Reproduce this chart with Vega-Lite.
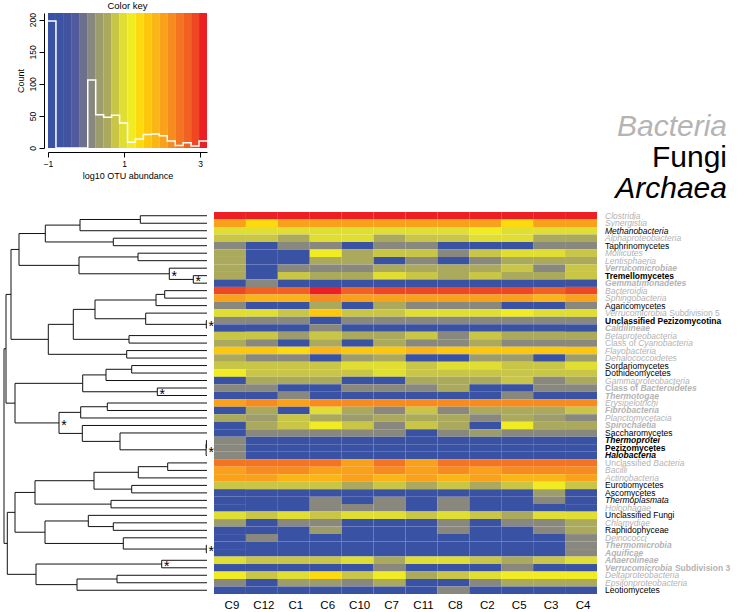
{
"$schema": "https://vega.github.io/schema/vega-lite/v6.json",
"background": "white",
"padding": {"left": 3, "top": 1, "right": 2, "bottom": 2},
"config": {"font": "Liberation Sans", "view": {"stroke": null}, "axis": {"grid": false}},
"datasets": {
"rows": [
{"c":"Clostridia","k":"Bacteria","s":0,"C9":3.07,"C12":3.07,"C1":3.07,"C6":3.07,"C10":3.07,"C7":3.07,"C11":3.07,"C8":3.07,"C2":3.07,"C5":3.07,"C3":3.07,"C4":3.07},
{"c":"Synergistia","k":"Bacteria","s":0,"C9":2.03,"C12":1.4,"C1":2.03,"C6":2.03,"C10":2.03,"C7":2.03,"C11":2.03,"C8":2.03,"C2":2.03,"C5":1.4,"C3":2.03,"C4":2.03},
{"c":"Methanobacteria","k":"Archaea","s":0,"C9":0.99,"C12":0.99,"C1":0.99,"C6":0.99,"C10":0.99,"C7":0.99,"C11":0.99,"C8":0.99,"C2":1.2,"C5":0.99,"C3":0.99,"C4":0.99},
{"c":"Alphaproteobacteria","k":"Bacteria","s":0,"C9":0.78,"C12":0.78,"C1":0.57,"C6":0.99,"C10":0.99,"C7":0.57,"C11":0.78,"C8":0.78,"C2":0.99,"C5":0.99,"C3":0.57,"C4":0.57},
{"c":"Taphrinomycetes","k":"Fungi","s":0,"C9":0.15,"C12":-1,"C1":0.15,"C6":0.15,"C10":-1,"C7":0.15,"C11":0.15,"C8":-1,"C2":-1,"C5":-1,"C3":0.15,"C4":0.15},
{"c":"Mollicutes","k":"Bacteria","s":0,"C9":0.57,"C12":-1,"C1":-1,"C6":1.2,"C10":0.57,"C7":0.78,"C11":0.78,"C8":0.15,"C2":0.78,"C5":0.99,"C3":0.99,"C4":0.78},
{"c":"Lentisphaeria","k":"Bacteria","s":0,"C9":0.57,"C12":-1,"C1":-1,"C6":0.57,"C10":0.57,"C7":-1,"C11":0.15,"C8":-1,"C2":0.15,"C5":0.57,"C3":0.57,"C4":0.57},
{"c":"Verrucomicrobiae","k":"Bacteria","s":1,"C9":0.57,"C12":-1,"C1":0.15,"C6":0.15,"C10":0.15,"C7":0.57,"C11":0.57,"C8":0.57,"C2":0.57,"C5":0.78,"C3":0.15,"C4":0.78},
{"c":"Tremellomycetes","k":"Fungi","s":1,"C9":0.57,"C12":-1,"C1":0.78,"C6":0.57,"C10":0.57,"C7":0.99,"C11":0.78,"C8":0.57,"C2":0.78,"C5":0.57,"C3":0.57,"C4":0.78},
{"c":"Gemmatimonadetes","k":"Bacteria","s":1,"C9":-1,"C12":0.15,"C1":-1,"C6":-1,"C10":-1,"C7":-1,"C11":-1,"C8":-1,"C2":-1,"C5":-1,"C3":-1,"C4":-1},
{"c":"Bacteroidia","k":"Bacteria","s":0,"C9":2.87,"C12":2.66,"C1":2.66,"C6":3.07,"C10":2.66,"C7":2.87,"C11":2.87,"C8":2.87,"C2":2.87,"C5":2.87,"C3":2.66,"C4":2.87},
{"c":"Sphingobacteria","k":"Bacteria","s":0,"C9":2.03,"C12":1.82,"C1":1.82,"C6":2.24,"C10":2.03,"C7":2.03,"C11":2.03,"C8":2.03,"C2":2.03,"C5":2.03,"C3":1.82,"C4":2.03},
{"c":"Agaricomycetes","k":"Fungi","s":0,"C9":0.15,"C12":-1,"C1":-1,"C6":0.57,"C10":-1,"C7":0.57,"C11":0.15,"C8":0.15,"C2":0.15,"C5":-1,"C3":-1,"C4":0.15},
{"c":"Verrucomicrobia Subdivision 5","k":"Bacteria","s":0,"C9":0.99,"C12":0.99,"C1":0.78,"C6":1.61,"C10":0.78,"C7":0.78,"C11":0.99,"C8":0.99,"C2":0.99,"C5":1.2,"C3":0.99,"C4":0.99},
{"c":"Unclassified Pezizomycotina","k":"Fungi","s":1,"C9":0.15,"C12":0.15,"C1":0.15,"C6":-1,"C10":0.15,"C7":0.15,"C11":0.15,"C8":0.15,"C2":0.15,"C5":0.15,"C3":0.15,"C4":0.15},
{"c":"Caldilineae","k":"Bacteria","s":1,"C9":-1,"C12":-1,"C1":-1,"C6":0.15,"C10":-1,"C7":-1,"C11":-1,"C8":-1,"C2":-1,"C5":-1,"C3":-1,"C4":-1},
{"c":"Betaproteobacteria","k":"Bacteria","s":0,"C9":0.78,"C12":0.78,"C1":0.36,"C6":0.78,"C10":0.57,"C7":0.57,"C11":0.78,"C8":0.15,"C2":0.78,"C5":0.57,"C3":0.57,"C4":0.57},
{"c":"Class of Cyanobacteria","k":"Bacteria","s":0,"C9":0.57,"C12":0.15,"C1":-1,"C6":0.57,"C10":-1,"C7":0.57,"C11":0.15,"C8":0.15,"C2":0.57,"C5":0.15,"C3":0.15,"C4":0.15},
{"c":"Flavobacteria","k":"Bacteria","s":0,"C9":1.61,"C12":1.61,"C1":1.4,"C6":1.82,"C10":1.61,"C7":1.61,"C11":1.82,"C8":1.61,"C2":1.61,"C5":1.61,"C3":1.61,"C4":1.61},
{"c":"Dehalococcoidetes","k":"Bacteria","s":0,"C9":0.57,"C12":0.15,"C1":0.15,"C6":-1,"C10":0.36,"C7":0.57,"C11":-1,"C8":-1,"C2":0.36,"C5":0.36,"C3":-1,"C4":0.36},
{"c":"Sordariomycetes","k":"Fungi","s":0,"C9":0.78,"C12":0.78,"C1":0.78,"C6":0.78,"C10":0.99,"C7":0.99,"C11":0.78,"C8":0.99,"C2":0.99,"C5":0.78,"C3":0.78,"C4":0.99},
{"c":"Dothideomycetes","k":"Fungi","s":0,"C9":1.2,"C12":0.78,"C1":0.78,"C6":0.78,"C10":0.78,"C7":0.99,"C11":0.78,"C8":0.78,"C2":0.78,"C5":0.78,"C3":0.78,"C4":0.78},
{"c":"Gammaproteobacteria","k":"Bacteria","s":0,"C9":-1,"C12":0.57,"C1":0.57,"C6":0.57,"C10":-1,"C7":-1,"C11":0.57,"C8":0.57,"C2":0.57,"C5":0.78,"C3":0.15,"C4":0.57},
{"c":"Class of Bacteroidetes","k":"Bacteria","s":1,"C9":0.15,"C12":0.15,"C1":-1,"C6":-1,"C10":0.15,"C7":0.15,"C11":0.15,"C8":0.57,"C2":-1,"C5":-1,"C3":0.15,"C4":0.15},
{"c":"Thermotogae","k":"Bacteria","s":1,"C9":-1,"C12":-1,"C1":0.15,"C6":-1,"C10":-1,"C7":-1,"C11":-1,"C8":-1,"C2":-1,"C5":0.15,"C3":-1,"C4":-1},
{"c":"Erysipelotrichi","k":"Bacteria","s":0,"C9":2.03,"C12":2.24,"C1":2.03,"C6":2.24,"C10":2.24,"C7":2.24,"C11":2.24,"C8":2.24,"C2":2.24,"C5":2.24,"C3":2.24,"C4":2.24},
{"c":"Fibrobacteria","k":"Bacteria","s":1,"C9":-1,"C12":0.57,"C1":-1,"C6":0.99,"C10":0.57,"C7":0.15,"C11":0.78,"C8":0.15,"C2":0.57,"C5":0.57,"C3":0.57,"C4":0.78},
{"c":"Planctomycetacia","k":"Bacteria","s":0,"C9":0.57,"C12":0.36,"C1":0.78,"C6":0.57,"C10":0.36,"C7":0.57,"C11":0.57,"C8":0.57,"C2":0.15,"C5":0.57,"C3":0.36,"C4":0.15},
{"c":"Spirochaetia","k":"Bacteria","s":1,"C9":-1,"C12":0.57,"C1":0.78,"C6":1.2,"C10":0.78,"C7":0.15,"C11":0.78,"C8":0.57,"C2":-1,"C5":1.2,"C3":0.57,"C4":0.57},
{"c":"Saccharomycetes","k":"Fungi","s":0,"C9":-1,"C12":0.15,"C1":0.15,"C6":0.15,"C10":0.15,"C7":0.15,"C11":-1,"C8":0.15,"C2":0.36,"C5":0.15,"C3":0.15,"C4":0.15},
{"c":"Thermoprotei","k":"Archaea","s":1,"C9":0.15,"C12":-1,"C1":-1,"C6":-1,"C10":-1,"C7":-1,"C11":-1,"C8":-1,"C2":-1,"C5":-1,"C3":-1,"C4":-1},
{"c":"Pezizomycetes","k":"Fungi","s":1,"C9":0.15,"C12":-1,"C1":-1,"C6":-1,"C10":-1,"C7":-1,"C11":-1,"C8":-1,"C2":-1,"C5":-1,"C3":-1,"C4":-1},
{"c":"Halobacteria","k":"Archaea","s":1,"C9":0.15,"C12":-1,"C1":-1,"C6":-1,"C10":-1,"C7":-1,"C11":-1,"C8":-1,"C2":-1,"C5":-1,"C3":-1,"C4":-1},
{"c":"Unclassified Bacteria","k":"Bacteria","s":0,"C9":2.45,"C12":2.45,"C1":2.45,"C6":2.45,"C10":2.03,"C7":2.45,"C11":2.03,"C8":2.45,"C2":2.45,"C5":2.45,"C3":2.45,"C4":2.45},
{"c":"Bacilli","k":"Bacteria","s":0,"C9":2.03,"C12":2.24,"C1":2.24,"C6":2.03,"C10":2.03,"C7":2.24,"C11":2.03,"C8":2.24,"C2":2.03,"C5":2.24,"C3":2.24,"C4":2.24},
{"c":"Actinobacteria","k":"Bacteria","s":0,"C9":2.03,"C12":2.03,"C1":1.82,"C6":1.82,"C10":2.03,"C7":1.82,"C11":2.03,"C8":1.82,"C2":2.03,"C5":1.82,"C3":1.82,"C4":2.03},
{"c":"Eurotiomycetes","k":"Fungi","s":0,"C9":0.78,"C12":0.78,"C1":0.78,"C6":0.78,"C10":0.57,"C7":0.78,"C11":0.57,"C8":0.78,"C2":0.57,"C5":0.78,"C3":1.2,"C4":0.78},
{"c":"Ascomycetes","k":"Fungi","s":0,"C9":-1,"C12":-1,"C1":-1,"C6":-1,"C10":-1,"C7":-1,"C11":-1,"C8":-1,"C2":-1,"C5":-1,"C3":0.36,"C4":-1},
{"c":"Thermoplasmata","k":"Archaea","s":0,"C9":-1,"C12":-1,"C1":-1,"C6":0.15,"C10":-1,"C7":0.15,"C11":-1,"C8":0.15,"C2":-1,"C5":-1,"C3":0.15,"C4":-1},
{"c":"Holophagae","k":"Bacteria","s":0,"C9":-1,"C12":-1,"C1":-1,"C6":0.15,"C10":0.15,"C7":0.15,"C11":-1,"C8":0.15,"C2":-1,"C5":-1,"C3":-1,"C4":-1},
{"c":"Unclassified Fungi","k":"Fungi","s":0,"C9":0.99,"C12":0.78,"C1":0.99,"C6":0.78,"C10":0.99,"C7":0.99,"C11":0.78,"C8":0.99,"C2":0.78,"C5":0.57,"C3":0.99,"C4":0.99},
{"c":"Chlamydiae","k":"Bacteria","s":0,"C9":0.36,"C12":-1,"C1":0.15,"C6":0.15,"C10":-1,"C7":-1,"C11":-1,"C8":0.15,"C2":-1,"C5":0.15,"C3":0.15,"C4":0.57},
{"c":"Raphidophyceae","k":"Fungi","s":0,"C9":-1,"C12":-1,"C1":-1,"C6":0.36,"C10":-1,"C7":-1,"C11":-1,"C8":0.15,"C2":-1,"C5":-1,"C3":0.15,"C4":0.57},
{"c":"Deinococci","k":"Bacteria","s":0,"C9":-1,"C12":0.15,"C1":-1,"C6":-1,"C10":-1,"C7":-1,"C11":-1,"C8":-1,"C2":-1,"C5":-1,"C3":-1,"C4":0.15},
{"c":"Thermomicrobia","k":"Bacteria","s":1,"C9":-1,"C12":-1,"C1":-1,"C6":-1,"C10":-1,"C7":-1,"C11":-1,"C8":-1,"C2":-1,"C5":-1,"C3":-1,"C4":0.15},
{"c":"Aquificae","k":"Bacteria","s":1,"C9":-1,"C12":-1,"C1":-1,"C6":-1,"C10":-1,"C7":-1,"C11":-1,"C8":-1,"C2":-1,"C5":-1,"C3":-1,"C4":0.15},
{"c":"Anaerolineae","k":"Bacteria","s":1,"C9":0.99,"C12":0.78,"C1":0.78,"C6":0.78,"C10":0.99,"C7":0.57,"C11":0.99,"C8":0.99,"C2":0.78,"C5":0.57,"C3":0.78,"C4":0.99},
{"c":"Verrucomicrobia Subdivision 3","k":"Bacteria","s":1,"C9":-1,"C12":-1,"C1":-1,"C6":-1,"C10":-1,"C7":0.15,"C11":-1,"C8":-1,"C2":-1,"C5":0.15,"C3":-1,"C4":-1},
{"c":"Deltaproteobacteria","k":"Bacteria","s":0,"C9":1.2,"C12":0.78,"C1":0.99,"C6":1.4,"C10":0.78,"C7":1.2,"C11":0.57,"C8":0.78,"C2":0.99,"C5":1.2,"C3":1.2,"C4":1.2},
{"c":"Epsilonproteobacteria","k":"Bacteria","s":0,"C9":0.15,"C12":-1,"C1":0.36,"C6":0.36,"C10":0.15,"C7":0.57,"C11":-1,"C8":-1,"C2":0.15,"C5":0.57,"C3":0.57,"C4":0.57},
{"c":"Leotiomycetes","k":"Fungi","s":0,"C9":-1,"C12":-1,"C1":-1,"C6":-1,"C10":-1,"C7":-1,"C11":-1,"C8":0.15,"C2":-1,"C5":-1,"C3":-1,"C4":-1}
],
"tree": [
{"id":"L1","h":0,"y":1,"p":"N1","ph":66.7},{"id":"L2","h":0,"y":2,"p":"N1","ph":66.7},{"id":"L3","h":0,"y":3,"p":"N2","ph":127},
{"id":"L4","h":0,"y":4,"p":"N3","ph":93.7},{"id":"L5","h":0,"y":5,"p":"N3","ph":93.7},{"id":"L6","h":0,"y":6,"p":"N5","ph":69},
{"id":"L7","h":0,"y":7,"p":"N5","ph":69},{"id":"L8","h":0,"y":8,"p":"N7","ph":37.7},{"id":"L9","h":0,"y":9,"p":"N6","ph":13.7},
{"id":"L10","h":0,"y":10,"p":"N6","ph":13.7},{"id":"L11","h":0,"y":11,"p":"N10","ph":42.3},{"id":"L12","h":0,"y":12,"p":"N10","ph":42.3},
{"id":"L13","h":0,"y":13,"p":"N11","ph":51},{"id":"L14","h":0,"y":14,"p":"N13","ph":61.3},{"id":"L15","h":0,"y":15,"p":"N12","ph":0.7},
{"id":"L16","h":0,"y":16,"p":"N12","ph":0.7},{"id":"L17","h":0,"y":17,"p":"N15","ph":78},{"id":"L18","h":0,"y":18,"p":"N15","ph":78},
{"id":"L19","h":0,"y":19,"p":"N17","ph":80.3},{"id":"L20","h":0,"y":20,"p":"N17","ph":80.3},{"id":"L21","h":0,"y":21,"p":"N20","ph":75.3},
{"id":"L22","h":0,"y":22,"p":"N20","ph":75.3},{"id":"L23","h":0,"y":23,"p":"N21","ph":101},{"id":"L24","h":0,"y":24,"p":"N22","ph":49.7},
{"id":"L25","h":0,"y":25,"p":"N22","ph":49.7},{"id":"L26","h":0,"y":26,"p":"N24","ph":99.7},{"id":"L27","h":0,"y":27,"p":"N24","ph":99.7},
{"id":"L28","h":0,"y":28,"p":"N25","ph":126.3},{"id":"L29","h":0,"y":29,"p":"N28","ph":124.7},{"id":"L30","h":0,"y":30,"p":"N27","ph":87},
{"id":"L31","h":0,"y":31,"p":"N26a","ph":0.6},{"id":"L32","h":0,"y":32,"p":"N26a","ph":0.6},{"id":"L33","h":0,"y":33,"p":"N26","ph":0.9},
{"id":"L34","h":0,"y":34,"p":"N32","ph":39.3},{"id":"L35","h":0,"y":35,"p":"N32","ph":39.3},{"id":"L36","h":0,"y":36,"p":"N33","ph":68.7},
{"id":"L37","h":0,"y":37,"p":"N34","ph":75.3},{"id":"L38","h":0,"y":38,"p":"N34","ph":75.3},{"id":"L39","h":0,"y":39,"p":"N36","ph":96},
{"id":"L40","h":0,"y":40,"p":"N36","ph":96},{"id":"L41","h":0,"y":41,"p":"N39","ph":118.7},{"id":"L42","h":0,"y":42,"p":"N38","ph":93.7},
{"id":"L43","h":0,"y":43,"p":"N38","ph":93.7},{"id":"L44","h":0,"y":44,"p":"N41","ph":83.7},{"id":"L45","h":0,"y":45,"p":"N40","ph":0.7},
{"id":"L46","h":0,"y":46,"p":"N40","ph":0.7},{"id":"L47","h":0,"y":47,"p":"N44","ph":45.3},{"id":"L48","h":0,"y":48,"p":"N44","ph":45.3},
{"id":"L49","h":0,"y":49,"p":"N45","ph":90},{"id":"L50","h":0,"y":50,"p":"N45","ph":90},{"id":"L51","h":0,"y":51,"p":"N46","ph":130},
{"id":"N1","h":66.7,"y":1.5,"p":"N2","ph":127},
{"id":"N2","h":127,"y":2.25,"p":"N4","ph":161.7},
{"id":"N3","h":93.7,"y":4.5,"p":"N4","ph":161.7},
{"id":"N4","h":161.7,"y":3.375,"p":"N9","ph":188},
{"id":"N5","h":69,"y":6.5,"p":"N8","ph":128},
{"id":"N6","h":13.7,"y":9.5,"p":"N7","ph":37.7,"star":true},
{"id":"N7","h":37.7,"y":8.75,"p":"N8","ph":128,"star":true},
{"id":"N8","h":128,"y":7.625,"p":"N9","ph":188},
{"id":"N9","h":188,"y":5.5,"p":"N19","ph":196},
{"id":"N10","h":42.3,"y":11.5,"p":"N11","ph":51},
{"id":"N11","h":51,"y":12.25,"p":"N14","ph":112},
{"id":"N12","h":0.7,"y":15.5,"p":"N13","ph":61.3,"star":true},
{"id":"N13","h":61.3,"y":14.75,"p":"N14","ph":112},
{"id":"N14","h":112,"y":13.5,"p":"N16","ph":133.7},
{"id":"N15","h":78,"y":17.5,"p":"N16","ph":133.7},
{"id":"N16","h":133.7,"y":15.5,"p":"N18","ph":158.7},
{"id":"N17","h":80.3,"y":19.5,"p":"N18","ph":158.7},
{"id":"N18","h":158.7,"y":17.5,"p":"N19","ph":196},
{"id":"N19","h":196,"y":11.5,"p":"N31","ph":201},
{"id":"N20","h":75.3,"y":21.5,"p":"N21","ph":101},
{"id":"N21","h":101,"y":22.25,"p":"N23","ph":124.3},
{"id":"N22","h":49.7,"y":24.5,"p":"N23","ph":124.3,"star":true},
{"id":"N23","h":124.3,"y":23.375,"p":"N30","ph":192},
{"id":"N24","h":99.7,"y":26.5,"p":"N25","ph":126.3},
{"id":"N25","h":126.3,"y":27.25,"p":"N29","ph":148},
{"id":"N26a","h":0.6,"y":31.5,"p":"N26","ph":0.9},
{"id":"N26","h":0.9,"y":32.25,"p":"N27","ph":87,"star":true},
{"id":"N27","h":87,"y":31.125,"p":"N28","ph":124.7},
{"id":"N28","h":124.7,"y":30.06,"p":"N29","ph":148},
{"id":"N29","h":148,"y":28.66,"p":"N30","ph":192,"star":true},
{"id":"N30","h":192,"y":26.02,"p":"N31","ph":201},
{"id":"N31","h":201,"y":18.76,"p":"ROOT","ph":203},
{"id":"N32","h":39.3,"y":34.5,"p":"N33","ph":68.7},
{"id":"N33","h":68.7,"y":35.25,"p":"N35","ph":113},
{"id":"N34","h":75.3,"y":37.5,"p":"N35","ph":113},
{"id":"N35","h":113,"y":36.375,"p":"N37","ph":172},
{"id":"N36","h":96,"y":39.5,"p":"N37","ph":172},
{"id":"N37","h":172,"y":37.94,"p":"N43","ph":192},
{"id":"N38","h":93.7,"y":42.5,"p":"N39","ph":118.7},
{"id":"N39","h":118.7,"y":41.75,"p":"N42","ph":162},
{"id":"N40","h":0.7,"y":45.5,"p":"N41","ph":83.7,"star":true},
{"id":"N41","h":83.7,"y":44.75,"p":"N42","ph":162},
{"id":"N42","h":162,"y":43.25,"p":"N43","ph":192},
{"id":"N43","h":192,"y":40.6,"p":"N48","ph":199.7},
{"id":"N44","h":45.3,"y":47.5,"p":"N47","ph":171,"star":true},
{"id":"N45","h":90,"y":49.5,"p":"N46","ph":130},
{"id":"N46","h":130,"y":50.25,"p":"N47","ph":171},
{"id":"N47","h":171,"y":48.875,"p":"N48","ph":199.7},
{"id":"N48","h":199.7,"y":44.74,"p":"ROOT","ph":203},
{"id":"ROOT","h":203,"y":31.75,"p":null,"ph":null}
],
"bands": [
{"lo":-1,"hi":-0.791,"n":198},{"lo":-0.791,"hi":-0.582,"n":0},{"lo":-0.582,"hi":-0.373,"n":0},{"lo":-0.373,"hi":-0.164,"n":0},
{"lo":-0.164,"hi":0.045,"n":0},{"lo":0.045,"hi":0.254,"n":106},{"lo":0.254,"hi":0.463,"n":52},{"lo":0.463,"hi":0.672,"n":48},
{"lo":0.672,"hi":0.881,"n":51},{"lo":0.881,"hi":1.09,"n":39},{"lo":1.09,"hi":1.299,"n":9},{"lo":1.299,"hi":1.508,"n":14},
{"lo":1.508,"hi":1.717,"n":21},{"lo":1.717,"hi":1.926,"n":22},{"lo":1.926,"hi":2.135,"n":19},{"lo":2.135,"hi":2.344,"n":11},
{"lo":2.344,"hi":2.553,"n":4},{"lo":2.553,"hi":2.762,"n":8},{"lo":2.762,"hi":2.971,"n":3},{"lo":2.971,"hi":3.18,"n":11}
],
"kingdoms": [{"k":"Bacteria","rank":1},{"k":"Fungi","rank":2},{"k":"Archaea","rank":3}]
},
"vconcat": [
{
"hconcat": [
{"width": 38, "height": 135, "data": {"values": []}, "mark": "point"},
{
"width": 159, "height": 135,
"title": {"text": "Color key", "fontSize": 9.5, "fontWeight": "normal", "offset": 2, "anchor": "middle", "color": "black"},
"data": {"name": "bands"},
"layer": [
{"mark": {"type": "rect"},
"encoding": {
"x": {"field": "lo", "type": "quantitative", "scale": {"domain": [-1, 3.18], "nice": false, "zero": false},
"axis": {"values": [-1, 0, 1, 2, 3], "title": "log10 OTU abundance", "titleFontSize": 9, "titleFontWeight": "normal", "titleColor": "black", "titlePadding": 4, "labelFontSize": 8.5, "labelColor": "black", "tickSize": 5, "tickColor": "black", "domainColor": "black", "offset": 4, "labelFlush": false, "labelOverlap": false, "labelPadding": 2}},
"x2": {"field": "hi"},
"fill": {"field": "lo", "type": "quantitative", "legend": null,
"scale": {"type": "threshold", "domain": [-0.791,-0.582,-0.373,-0.164,0.045,0.254,0.463,0.672,0.881,1.09,1.299,1.508,1.717,1.926,2.135,2.344,2.553,2.762,2.971],
"range": ["#3a52a3","#3c52a2","#4254a0","#515a9b","#6d6f8f","#88887e","#9d9c6c","#aba95b","#c9c647","#e1de33","#f0eb22","#fdd90f","#fcc70c","#fbb516","#f9a11b","#f68b1f","#f47521","#f26122","#ef4623","#ec2024"]}}
}},
{"transform": [{"fold": ["lo", "hi"], "as": ["edge", "xv"]}],
"mark": {"type": "line", "color": "white", "strokeWidth": 1.5},
"encoding": {
"x": {"field": "xv", "type": "quantitative"},
"y": {"field": "n", "type": "quantitative", "scale": {"domain": [0, 210.5], "nice": false},
"axis": {"values": [0, 50, 100, 150, 200], "title": "Count", "titleFontSize": 9, "titleFontWeight": "normal", "titleColor": "black", "titlePadding": 3, "labelFontSize": 8.5, "labelColor": "black", "labelAngle": 270, "labelAlign": "center", "labelBaseline": "bottom", "tickSize": 5, "tickColor": "black", "domainColor": "black", "offset": 4, "labelFlush": false, "labelOverlap": false, "labelPadding": 2}},
"order": [{"field": "xv", "type": "quantitative"}, {"field": "edge", "type": "ordinal"}]
}}
]
},
{
"width": 513, "height": 135,
"data": {"name": "kingdoms"},
"encoding": {
"x": {"datum": 1, "type": "quantitative", "scale": {"domain": [0, 1]}, "axis": null},
"y": {"field": "rank", "type": "quantitative", "scale": {"domain": [-2.677, 1.677], "reverse": true, "nice": false, "zero": false}, "axis": null},
"text": {"field": "k"}
},
"layer": [
{"transform": [{"filter": "datum.k == 'Bacteria'"}], "mark": {"type": "text", "align": "right", "baseline": "middle", "fontSize": 30, "fontStyle": "italic", "color": "#b4b4b4"}},
{"transform": [{"filter": "datum.k == 'Fungi'"}], "mark": {"type": "text", "align": "right", "baseline": "middle", "fontSize": 30, "fontStyle": "normal", "color": "black"}},
{"transform": [{"filter": "datum.k == 'Archaea'"}], "mark": {"type": "text", "align": "right", "baseline": "middle", "fontSize": 30, "fontStyle": "italic", "color": "black"}}
]
}
],
"spacing": 7,
"bounds": "flush"
},
{
"hconcat": [
{
"width": 204, "height": 382,
"layer": [
{"data": {"name": "tree"},
"transform": [{"filter": "datum.p != null"}],
"mark": {"type": "rule", "color": "#111111", "strokeWidth": 1},
"encoding": {
"x": {"field": "h", "type": "quantitative", "scale": {"domain": [0, 204], "reverse": true, "nice": false, "zero": false}, "axis": null},
"x2": {"field": "ph"},
"y": {"field": "y", "type": "quantitative", "scale": {"domain": [0.5, 51.5], "reverse": true, "nice": false, "zero": false}, "axis": null}
}},
{"data": {"name": "tree"},
"transform": [{"filter": "datum.p != null"}, {"aggregate": [{"op": "min", "field": "y", "as": "y1"}, {"op": "max", "field": "y", "as": "y2"}, {"op": "max", "field": "ph", "as": "hx"}], "groupby": ["p"]}],
"mark": {"type": "rule", "color": "#111111", "strokeWidth": 1},
"encoding": {
"x": {"field": "hx", "type": "quantitative"},
"y": {"field": "y1", "type": "quantitative"},
"y2": {"field": "y2"}
}},
{"data": {"name": "tree"},
"transform": [{"filter": "datum.star == true"}],
"mark": {"type": "text", "text": "*", "fontSize": 14, "dx": 5, "dy": 3, "align": "center", "baseline": "middle", "color": "black"},
"encoding": {
"x": {"field": "h", "type": "quantitative"},
"y": {"field": "y", "type": "quantitative"}
}}
]
},
{
"width": 383, "height": 382,
"data": {"name": "rows"},
"encoding": {
"y": {"field": "c", "type": "nominal", "sort": null, "scale": {"paddingInner": 0, "paddingOuter": 0}, "axis": null}
},
"layer": [
{"transform": [{"fold": ["C9","C12","C1","C6","C10","C7","C11","C8","C2","C5","C3","C4"], "as": ["sample", "v"]}],
"mark": {"type": "rect"},
"encoding": {
"x": {"field": "sample", "type": "nominal", "sort": ["C9","C12","C1","C6","C10","C7","C11","C8","C2","C5","C3","C4"], "scale": {"paddingInner": 0, "paddingOuter": 0},
"axis": {"title": null, "ticks": false, "domain": false, "labelFontSize": 11.5, "labelPadding": 5, "labelAngle": 0, "labelColor": "black", "labelOffset": 2}},
"fill": {"field": "v", "type": "quantitative", "legend": null,
"scale": {"type": "threshold", "domain": [-0.791,-0.582,-0.373,-0.164,0.045,0.254,0.463,0.672,0.881,1.09,1.299,1.508,1.717,1.926,2.135,2.344,2.553,2.762,2.971],
"range": ["#3a52a3","#3c52a2","#4254a0","#515a9b","#6d6f8f","#88887e","#9d9c6c","#aba95b","#c9c647","#e1de33","#f0eb22","#fdd90f","#fcc70c","#fbb516","#f9a11b","#f68b1f","#f47521","#f26122","#ef4623","#ec2024"]}}
}},
{"transform": [{"filter": "datum.k == 'Fungi' && datum.s == 0"}],
"mark": {"type": "text", "align": "left", "baseline": "middle", "dx": 24, "fontSize": 8.5, "color": "black"},
"encoding": {"x": {"datum": "C4", "type": "nominal"}, "text": {"field": "c"}}},
{"transform": [{"filter": "datum.k == 'Fungi' && datum.s == 1"}],
"mark": {"type": "text", "align": "left", "baseline": "middle", "dx": 24, "fontSize": 8.5, "fontWeight": "bold", "color": "black"},
"encoding": {"x": {"datum": "C4", "type": "nominal"}, "text": {"field": "c"}}},
{"transform": [{"filter": "datum.k == 'Archaea' && datum.s == 0"}],
"mark": {"type": "text", "align": "left", "baseline": "middle", "dx": 24, "fontSize": 8.5, "fontStyle": "italic", "color": "black"},
"encoding": {"x": {"datum": "C4", "type": "nominal"}, "text": {"field": "c"}}},
{"transform": [{"filter": "datum.k == 'Archaea' && datum.s == 1"}],
"mark": {"type": "text", "align": "left", "baseline": "middle", "dx": 24, "fontSize": 8.5, "fontStyle": "italic", "fontWeight": "bold", "color": "black"},
"encoding": {"x": {"datum": "C4", "type": "nominal"}, "text": {"field": "c"}}},
{"transform": [{"filter": "datum.k == 'Bacteria' && datum.s == 0 && indexof(['Class of Cyanobacteria','Unclassified Bacteria','Verrucomicrobia Subdivision 5'], datum.c) < 0"}],
"mark": {"type": "text", "align": "left", "baseline": "middle", "dx": 24, "fontSize": 8.5, "fontStyle": "italic", "color": "#b3b3b3"},
"encoding": {"x": {"datum": "C4", "type": "nominal"}, "text": {"field": "c"}}},
{"transform": [{"filter": "datum.k == 'Bacteria' && datum.s == 1 && indexof(['Class of Bacteroidetes','Verrucomicrobia Subdivision 3'], datum.c) < 0"}],
"mark": {"type": "text", "align": "left", "baseline": "middle", "dx": 24, "fontSize": 8.5, "fontStyle": "italic", "fontWeight": "bold", "color": "#b3b3b3"},
"encoding": {"x": {"datum": "C4", "type": "nominal"}, "text": {"field": "c"}}},
{"transform": [{"filter": "datum.c == 'Class of Cyanobacteria'"}],
"mark": {"type": "text", "align": "left", "baseline": "middle", "dx": 24, "fontSize": 8.5, "color": "#b3b3b3", "text": "Class of"},
"encoding": {"x": {"datum": "C4", "type": "nominal"}}},
{"transform": [{"filter": "datum.c == 'Class of Cyanobacteria'"}],
"mark": {"type": "text", "align": "left", "baseline": "middle", "dx": 57.1, "fontSize": 8.5, "fontStyle": "italic", "color": "#b3b3b3", "text": "Cyanobacteria"},
"encoding": {"x": {"datum": "C4", "type": "nominal"}}},
{"transform": [{"filter": "datum.c == 'Unclassified Bacteria'"}],
"mark": {"type": "text", "align": "left", "baseline": "middle", "dx": 24, "fontSize": 8.5, "color": "#b3b3b3", "text": "Unclassified"},
"encoding": {"x": {"datum": "C4", "type": "nominal"}}},
{"transform": [{"filter": "datum.c == 'Unclassified Bacteria'"}],
"mark": {"type": "text", "align": "left", "baseline": "middle", "dx": 72.2, "fontSize": 8.5, "fontStyle": "italic", "color": "#b3b3b3", "text": "Bacteria"},
"encoding": {"x": {"datum": "C4", "type": "nominal"}}},
{"transform": [{"filter": "datum.c == 'Verrucomicrobia Subdivision 5'"}],
"mark": {"type": "text", "align": "left", "baseline": "middle", "dx": 24, "fontSize": 8.5, "fontStyle": "italic", "color": "#b3b3b3", "text": "Verrucomicrobia"},
"encoding": {"x": {"datum": "C4", "type": "nominal"}}},
{"transform": [{"filter": "datum.c == 'Verrucomicrobia Subdivision 5'"}],
"mark": {"type": "text", "align": "left", "baseline": "middle", "dx": 88.2, "fontSize": 8.5, "color": "#b3b3b3", "text": "Subdivision 5"},
"encoding": {"x": {"datum": "C4", "type": "nominal"}}},
{"transform": [{"filter": "datum.c == 'Class of Bacteroidetes'"}],
"mark": {"type": "text", "align": "left", "baseline": "middle", "dx": 24, "fontSize": 8.5, "fontWeight": "bold", "color": "#b3b3b3", "text": "Class of"},
"encoding": {"x": {"datum": "C4", "type": "nominal"}}},
{"transform": [{"filter": "datum.c == 'Class of Bacteroidetes'"}],
"mark": {"type": "text", "align": "left", "baseline": "middle", "dx": 59.4, "fontSize": 8.5, "fontStyle": "italic", "fontWeight": "bold", "color": "#b3b3b3", "text": "Bacteroidetes"},
"encoding": {"x": {"datum": "C4", "type": "nominal"}}},
{"transform": [{"filter": "datum.c == 'Verrucomicrobia Subdivision 3'"}],
"mark": {"type": "text", "align": "left", "baseline": "middle", "dx": 24, "fontSize": 8.5, "fontStyle": "italic", "fontWeight": "bold", "color": "#b3b3b3", "text": "Verrucomicrobia"},
"encoding": {"x": {"datum": "C4", "type": "nominal"}}},
{"transform": [{"filter": "datum.c == 'Verrucomicrobia Subdivision 3'"}],
"mark": {"type": "text", "align": "left", "baseline": "middle", "dx": 93.9, "fontSize": 8.5, "fontWeight": "bold", "color": "#b3b3b3", "text": "Subdivision 3"},
"encoding": {"x": {"datum": "C4", "type": "nominal"}}}
]
}
],
"spacing": 7,
"bounds": "flush"
}
],
"spacing": 199,
"bounds": "flush"
}
